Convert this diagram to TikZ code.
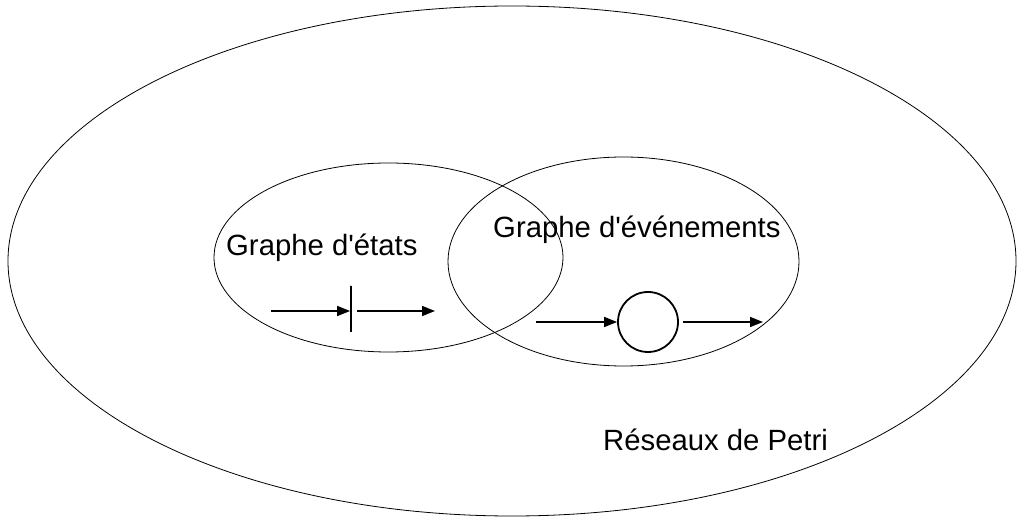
\documentclass[tikz,border=0pt]{standalone}
\usepackage{fontspec}
\setmainfont{Liberation Sans}
\usetikzlibrary{shapes.geometric,arrows.meta}
\begin{document}
\begin{tikzpicture}[x=1pt,y=-1pt,
  setring/.style={draw,ellipse,line width=0.8pt,inner sep=0pt},
  lbl/.style={inner sep=0pt,anchor=base west,font=\fontsize{29.3}{33}\selectfont},
  arc/.style={line width=1.6pt,-{Triangle[length=13pt,width=10pt]}},
  place/.style={draw,circle,line width=1.8pt,minimum size=60pt,inner sep=0pt},
  trans/.style={draw,line width=1.8pt,minimum width=0pt,minimum height=46pt,inner sep=0pt}]
  \useasboundingbox (0,0) rectangle (1018,518);
  % nested sets
  \node[setring,minimum width=1008pt,minimum height=510pt] (petri) at (512,261) {};
  \node[setring,minimum width=349pt,minimum height=189pt] (etats) at (388.5,257.5) {};
  \node[setring,minimum width=351pt,minimum height=209pt] (evts) at (623.5,261.5) {};
  % labels
  \node[lbl] (tetats) at (226,256) {Graphe d\textquotesingle états};
  \node[lbl] (tevts) at (493,238) {Graphe d\textquotesingle événements};
  \node[lbl] (tpetri) at (603,451) {Réseaux de Petri};
  % state graph fragment: transition
  \coordinate (a1) at (271,311);
  \node[trans] (t) at (351,309) {};
  \coordinate (a2) at (435,311);
  \draw[arc] (a1) -- (t.west |- a1);
  \draw[arc] ([xshift=5pt]t.east |- a1) -- (a2);
  % event graph fragment: place
  \coordinate (b1) at (536,322);
  \node[place] (p) at (648,322) {};
  \coordinate (b2) at (763,322);
  \draw[arc] (b1) -- (p.west);
  \draw[arc] ([xshift=4pt]p.east) -- (b2);
\end{tikzpicture}
\end{document}
